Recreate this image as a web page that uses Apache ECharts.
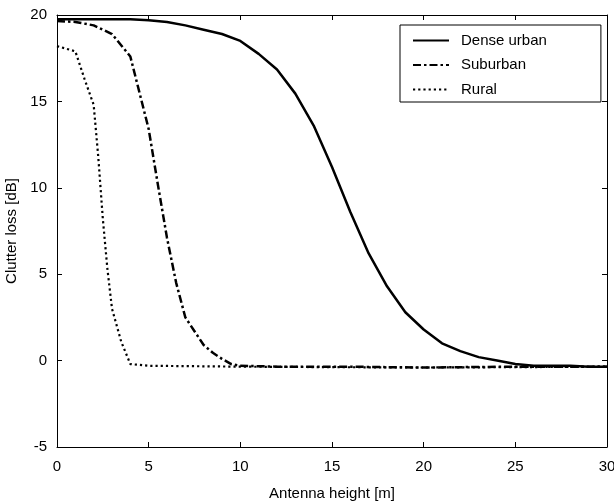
<!DOCTYPE html>
<html>
<head>
<meta charset="utf-8">
<script src="https://cdn.jsdelivr.net/npm/echarts@6/dist/echarts.min.js"></script>
<style>html,body{margin:0;padding:0;background:#fff}#c{width:614px;height:503px}</style>
</head>
<body>
<div id="c"></div>
<script>
var xTicks = [0, 5, 10, 15, 20, 25, 30];
var yTicks = [-5, 0, 5, 10, 15, 20];

var denseX = [0,1,2,3,4,5,6,7,8,9,10,11,12,13,14,15,16,17,18,19,20,21,22,23,24,25,26,27,28,29,30];
var denseY = [19.75,19.75,19.75,19.75,19.75,19.7,19.6,19.4,19.15,18.9,18.5,17.75,16.85,15.45,13.6,11.2,8.6,6.2,4.3,2.8,1.8,1.0,0.55,0.2,0.0,-0.2,-0.3,-0.3,-0.3,-0.35,-0.35];

var subX = [0,1,2,3,4,5,5.5,6,6.5,7,7.5,8,8.5,9,9.5,10,12,14,16,18,20,22,24,26,28,30];
var subY = [19.65,19.6,19.4,18.9,17.6,13.4,10.2,7.1,4.5,2.5,1.7,0.9,0.45,0.1,-0.2,-0.3,-0.35,-0.35,-0.35,-0.38,-0.4,-0.38,-0.36,-0.35,-0.35,-0.35];

var ruralX = [0,0.5,1,1.5,2,2.25,2.5,2.75,3,3.5,4,5,10,15,20,25,30];
var ruralY = [18.2,18.05,17.9,16.3,14.8,11.8,8.2,5.3,3.0,1.1,-0.2,-0.3,-0.35,-0.38,-0.4,-0.38,-0.35];

var names = ['Dense urban', 'Suburban', 'Rural'];

function pairs(xs, ys) { return xs.map(function (x, i) { return [x, ys[i]]; }); }

var font = 'Liberation Sans, Arial, sans-serif';
var fs = 15;
var chart = echarts.init(document.getElementById('c'), null, {renderer: 'canvas'});

function axisCommon(extra) {
  var a = {
    type: 'value',
    axisLine: {show: true, onZero: false, lineStyle: {color: '#000', width: 1}},
    axisTick: {show: true, inside: true, length: 5, lineStyle: {color: '#000'}},
    splitLine: {show: false}
  };
  for (var k in extra) a[k] = extra[k];
  return a;
}

chart.setOption({
  backgroundColor: '#fff',
  animation: false,
  grid: {left: 57, right: 7, top: 15, bottom: 56, containLabel: false, outerBoundsMode: 'none'},
  legend: {
    orient: 'vertical',
    left: 400,
    top: 25,
    data: names,
    itemWidth: 36,
    itemHeight: 14,
    itemGap: 9.5,
    padding: [8, 54, 5, 12],
    borderColor: '#000',
    borderWidth: 1,
    borderRadius: 0,
    backgroundColor: '#fff',
    itemStyle: {opacity: 0},
    textStyle: {fontFamily: font, fontSize: fs, color: '#000', padding: [0, 0, 0, 7]}
  },
  xAxis: [
    axisCommon({
      min: 0, max: 30, interval: 5, position: 'bottom',
      name: 'Antenna height [m]', nameLocation: 'middle', nameGap: 39,
      nameTextStyle: {fontFamily: font, fontSize: fs, color: '#000'},
      axisLabel: {fontFamily: font, fontSize: fs, color: '#000', margin: 12,
        formatter: function (v) { return xTicks.indexOf(v) >= 0 ? String(v) : ''; }}
    }),
    axisCommon({min: 0, max: 30, interval: 5, position: 'top', axisLabel: {show: false}})
  ],
  yAxis: [
    axisCommon({
      min: -5, max: 20, interval: 5, position: 'left',
      name: 'Clutter loss [dB]', nameLocation: 'middle', nameGap: 35,
      nameTextStyle: {fontFamily: font, fontSize: fs, color: '#000'},
      axisLabel: {fontFamily: font, fontSize: fs, color: '#000', margin: 10, padding: [8, 0, 0, 0],
        formatter: function (v) { return yTicks.indexOf(v) >= 0 ? String(v) : ''; }}
    }),
    axisCommon({min: -5, max: 20, interval: 5, position: 'right', axisLabel: {show: false}})
  ],
  series: [
    {name: names[0], type: 'line', data: pairs(denseX, denseY), showSymbol: false, symbol: 'none',
      lineStyle: {color: '#000', width: 2.5, type: 'solid'}, itemStyle: {color: '#000'}},
    {name: names[1], type: 'line', data: pairs(subX, subY), showSymbol: false, symbol: 'none',
      lineStyle: {color: '#000', width: 2.5, type: [8, 3, 2.5, 3]}, itemStyle: {color: '#000'}},
    {name: names[2], type: 'line', data: pairs(ruralX, ruralY), showSymbol: false, symbol: 'none',
      lineStyle: {color: '#000', width: 2.2, type: [2.2, 3]}, itemStyle: {color: '#000'}}
  ]
});
</script>
</body>
</html>
